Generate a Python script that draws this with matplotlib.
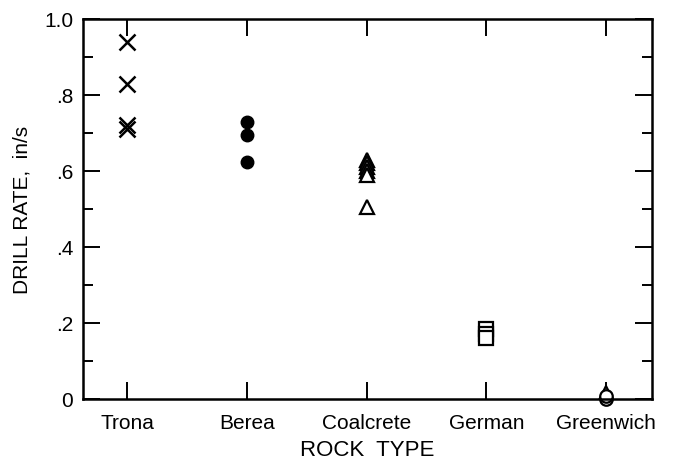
import matplotlib
matplotlib.use("Agg")
import matplotlib.pyplot as plt
from matplotlib.ticker import FixedLocator

plt.rcParams['font.family'] = ['Liberation Sans', 'DejaVu Sans']

categories = ["Trona", "Berea", "Coalcrete", "German", "Greenwich"]
trona = [0.94, 0.83, 0.72, 0.71]
berea = [0.73, 0.695, 0.625]
coalcrete = [0.63, 0.62, 0.61, 0.60, 0.59, 0.505]
german = [0.185, 0.172, 0.16]
greenwich_circle = [0.0, 0.008]
greenwich_tri = [0.018]
ytick_values = [0.0, 0.2, 0.4, 0.6, 0.8, 1.0]
ytick_labels = ["0", ".2", ".4", ".6", ".8", "1.0"]
yminor_values = [0.1, 0.3, 0.5, 0.7, 0.9]

fig = plt.figure(figsize=(6.79, 4.64), dpi=100)
ax = fig.add_axes([83/679, 1 - 400/464, (652-83)/679, 380/464])

xs = {c: i + 1 for i, c in enumerate(categories)}
ax.plot([xs["Trona"]] * len(trona), trona, linestyle='none', marker='x',
        markersize=11, markeredgewidth=1.8, color='black')
ax.plot([xs["Berea"]] * len(berea), berea, linestyle='none', marker='o',
        markersize=9, color='black')
ax.plot([xs["Coalcrete"]] * len(coalcrete), coalcrete, linestyle='none', marker='^',
        markersize=10, markerfacecolor='white', markeredgewidth=1.6, color='black')
ax.plot([xs["German"]] * len(german), german, linestyle='none', marker='s',
        markersize=10, markerfacecolor='white', markeredgewidth=1.6, color='black')
ax.plot([xs["Greenwich"]] * len(greenwich_tri), greenwich_tri, linestyle='none', marker='^',
        markersize=9, markerfacecolor='white', markeredgewidth=1.6, color='black', clip_on=False)
ax.plot([xs["Greenwich"]] * len(greenwich_circle), greenwich_circle, linestyle='none', marker='o',
        markersize=9, markerfacecolor='white', markeredgewidth=1.6, color='black', clip_on=False)

ax.set_xlim(0.633, 5.383)
ax.set_ylim(0, 1.0)
ax.xaxis.set_major_locator(FixedLocator(list(xs.values())))
ax.set_xticklabels(categories, fontsize=15)
ax.yaxis.set_major_locator(FixedLocator(ytick_values))
ax.yaxis.set_minor_locator(FixedLocator(yminor_values))
ax.set_yticklabels(ytick_labels, fontsize=15)

ax.tick_params(axis='both', which='major', direction='in', length=12, width=1.4,
               top=True, right=True, pad=7)
ax.tick_params(axis='x', which='major', pad=10)
ax.tick_params(axis='y', which='minor', direction='in', length=7, width=1.4, right=True)
for s in ax.spines.values():
    s.set_linewidth(1.8)

ax.set_xlabel("ROCK  TYPE", fontsize=16, labelpad=5)
ax.set_ylabel("DRILL RATE,  in/s", fontsize=15, labelpad=9)

fig.savefig("out.png", dpi=100)
